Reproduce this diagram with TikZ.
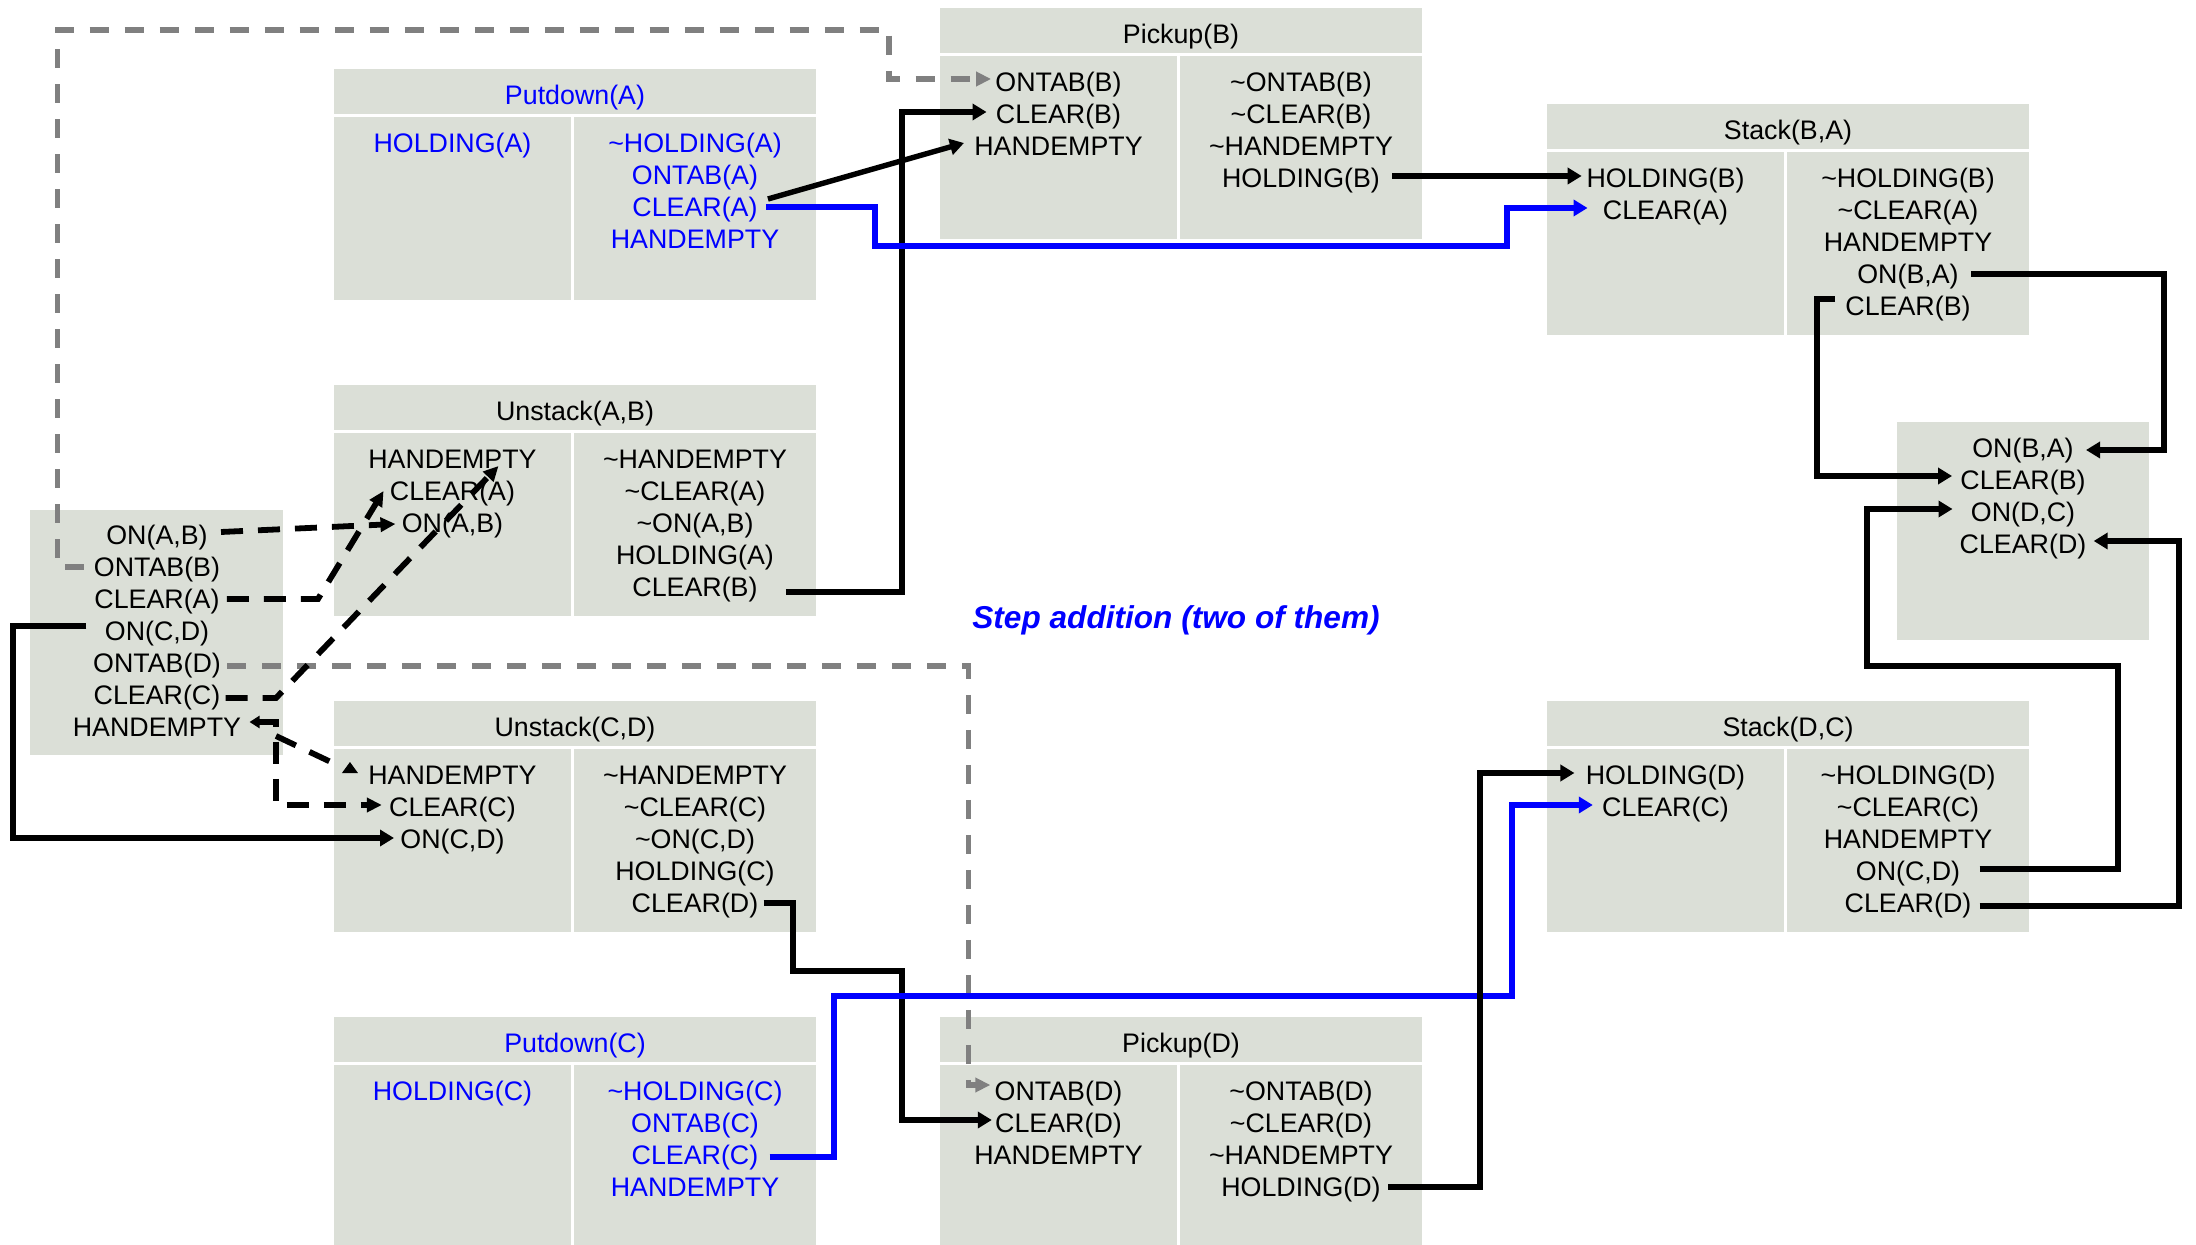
\documentclass[tikz,border=0pt]{standalone}
\usepackage{fontspec}
\setmainfont{Liberation Sans}
\usetikzlibrary{arrows.meta}

\definecolor{cellfill}{RGB}{219,223,215}
\definecolor{linkblue}{RGB}{0,0,255}
\definecolor{linkgrey}{RGB}{128,128,128}
\newcommand{\tld}{\textasciitilde}

\tikzset{
  x=0.5pt, y=-0.5pt,
  stip/.tip={Triangle[length=7pt,width=8pt]},
  dtip/.tip={Triangle[length=7.5pt,width=7pt]},
  lbl/.style={inner sep=0pt, text height=9.6pt, text depth=0pt,
              font=\fontsize{13.4}{16}\selectfont},
  cell/.style={fill=cellfill},
  link/.style={line width=2.7pt, -{stip}},
  bluelink/.style={link, draw=linkblue},
  dlink/.style={line width=2.9pt, dash pattern=on 11pt off 7.5pt, -{dtip}},
  glink/.style={line width=2.6pt, draw=linkgrey, dash pattern=on 9.5pt off 8pt, -{dtip}},
}

% operator box: #1 name, #2 left, #3 top, #4 title, #5 text colour,
% #6 preconditions, #7 effects
\newcommand{\actbox}[7]{%
  \fill[cell] (#2,#3) rectangle ++(482,45);
  \fill[cell] (#2,#3+48) rectangle ++(237,183);
  \fill[cell] (#2+240,#3+48) rectangle ++(242,183);
  \node[lbl,text=#5] (#1-t) at (#2+241,#3+26) {#4};
  \foreach \s [count=\k] in {#6}
    \node[lbl,text=#5] (#1-p\k) at (#2+118.5,#3+42+32*\k) {\s};
  \foreach \s [count=\k] in {#7}
    \node[lbl,text=#5] (#1-e\k) at (#2+361,#3+42+32*\k) {\s};
}

\begin{document}
\begin{tikzpicture}
\path[use as bounding box] (0,0) rectangle (2196,1245);
\clip (0,0) rectangle (2196,1245);

% ---------- operators ----------
\actbox{pa}{334}{69}{Putdown(A)}{linkblue}{HOLDING(A)}
  {\tld HOLDING(A), ONTAB(A), CLEAR(A), HANDEMPTY}
\actbox{pb}{940}{8}{Pickup(B)}{black}{ONTAB(B), CLEAR(B), HANDEMPTY}
  {\tld ONTAB(B), \tld CLEAR(B), \tld HANDEMPTY, HOLDING(B)}
\actbox{sba}{1547}{104}{Stack(B,A)}{black}{HOLDING(B), CLEAR(A)}
  {\tld HOLDING(B), \tld CLEAR(A), HANDEMPTY, {ON(B,A)}, CLEAR(B)}
\actbox{uab}{334}{385}{Unstack(A,B)}{black}{HANDEMPTY, CLEAR(A), {ON(A,B)}}
  {\tld HANDEMPTY, \tld CLEAR(A), {\tld ON(A,B)}, HOLDING(A), CLEAR(B)}
\actbox{ucd}{334}{701}{Unstack(C,D)}{black}{HANDEMPTY, CLEAR(C), {ON(C,D)}}
  {\tld HANDEMPTY, \tld CLEAR(C), {\tld ON(C,D)}, HOLDING(C), CLEAR(D)}
\actbox{sdc}{1547}{701}{Stack(D,C)}{black}{HOLDING(D), CLEAR(C)}
  {\tld HOLDING(D), \tld CLEAR(C), HANDEMPTY, {ON(C,D)}, CLEAR(D)}
\actbox{pc}{334}{1017}{Putdown(C)}{linkblue}{HOLDING(C)}
  {\tld HOLDING(C), ONTAB(C), CLEAR(C), HANDEMPTY}
\actbox{pd}{940}{1017}{Pickup(D)}{black}{ONTAB(D), CLEAR(D), HANDEMPTY}
  {\tld ONTAB(D), \tld CLEAR(D), \tld HANDEMPTY, HOLDING(D)}

% ---------- initial state ----------
\fill[cell] (30,510) rectangle (283,755);
\foreach \s [count=\k] in {{ON(A,B)}, ONTAB(B), CLEAR(A), {ON(C,D)}, ONTAB(D), CLEAR(C), HANDEMPTY}
  \node[lbl] (i\k) at (157,503+32*\k) {\s};

% ---------- goal ----------
\fill[cell] (1897,422) rectangle (2149,640);
\foreach \s [count=\k] in {{ON(B,A)}, CLEAR(B), {ON(D,C)}, CLEAR(D)}
  \node[lbl] (g\k) at (2023,416+32*\k) {\s};

\node[inner sep=0pt, text height=11.3pt, text depth=0pt, text=linkblue,
      font=\fontsize{15.8}{18}\selectfont\bfseries\itshape] (note) at (1176,617)
      {Step addition (two of them)};

% ---------- grey dashed links ----------
\draw[glink] ([xshift=-5pt]i2.west) -- ++(-26,0) |- (889,30)
  |- ([xshift=-2pt,yshift=1.5pt]pb-p1.west);
\draw[glink] ([xshift=3pt,yshift=-1.5pt]i5.east) -| ([xshift=-13pt,yshift=3pt]pd-p1.west)
  -- ([xshift=-2pt,yshift=3pt]pd-p1.west);

% ---------- black dashed links from the initial state ----------
\coordinate (fork) at (276,698);
\coordinate (hjoin) at (276,736);
\draw[dlink] ([xshift=6.5pt,yshift=1.5pt]i1.east) -- ([xshift=-3pt,yshift=-0.5pt]uab-p3.west);
\draw[dlink] ([xshift=3.5pt]i3.east) -- (318,599) -- ([xshift=-3pt]uab-p2.west);
\draw[dlink] ([xshift=2.5pt,yshift=-1.5pt]i6.east) -- (fork)
  -- ([xshift=23pt,yshift=-3.5pt]uab-p1.center);
\draw[dlink,{Triangle[length=5pt,width=6pt]}-{dtip}] ([xshift=4pt,yshift=2.5pt]i7.east) -| (276,805)
  -- ([xshift=-3.5pt,yshift=1pt]ucd-p2.west);
\draw[dlink,-] (hjoin) -- (333,763);
\fill ([xshift=-9pt,yshift=6.5pt]ucd-p1.west) -- ([xshift=-5pt,yshift=1pt]ucd-p1.west)
  -- ([xshift=-13pt,yshift=1pt]ucd-p1.west) -- cycle;

% ---------- solid links ----------
\draw[link] ([xshift=-9pt,yshift=2.5pt]i4.west) -| (13,838)
  -- ([xshift=-3pt,yshift=0.5pt]ucd-p3.west);
\draw[link] ([xshift=14pt,yshift=-2.5pt]uab-e5.east) -| (902,112)
  -- ([xshift=-4.5pt,yshift=1pt]pb-p2.west);
\draw[link] ([xshift=5pt,yshift=4pt]pa-e3.east) -- ([xshift=-5pt,yshift=1.5pt]pb-p3.west);
\draw[bluelink] ([xshift=4pt]pa-e3.east) -| (875,246) -| (1507,208)
  -- ([xshift=-7.5pt,yshift=1pt]sba-p2.west);
\draw[link] ([xshift=6pt,yshift=1pt]pb-e4.east) -- ([xshift=-2.25pt,yshift=1pt]sba-p1.west);
\draw[link] ([xshift=6pt]sba-e4.east) -| (2164,450) -- ([xshift=6pt,yshift=-1pt]g1.east);
\draw[link] ([xshift=-5pt,yshift=3.5pt]sba-e5.west) -| (1817,476)
  -- ([xshift=-4pt,yshift=2pt]g2.west);
\draw[link] ([xshift=9.5pt,yshift=1pt]sdc-e4.east) -| (2118,666) -| (1867,509)
  -- ([xshift=-9pt,yshift=1.5pt]g3.west);
\draw[link] ([xshift=4pt,yshift=-1.5pt]sdc-e5.east) -| (2179,541)
  -- ([xshift=3.5pt,yshift=1.5pt]g4.east);
\draw[link] ([xshift=2.5pt]ucd-e5.east) -| (793,971) -| (902,1120)
  -- ([xshift=-1.5pt,yshift=1.5pt]pd-p2.west);
\draw[bluelink] ([xshift=5.5pt,yshift=-1pt]pc-e3.east) -| (834,996) -| (1512,805)
  -- ([xshift=-4.5pt,yshift=1pt]sdc-p2.west);
\draw[link] ([xshift=3.5pt]pd-e4.east) -| (1480,773)
  -- ([xshift=-5.5pt,yshift=1pt]sdc-p1.west);
\end{tikzpicture}
\end{document}
